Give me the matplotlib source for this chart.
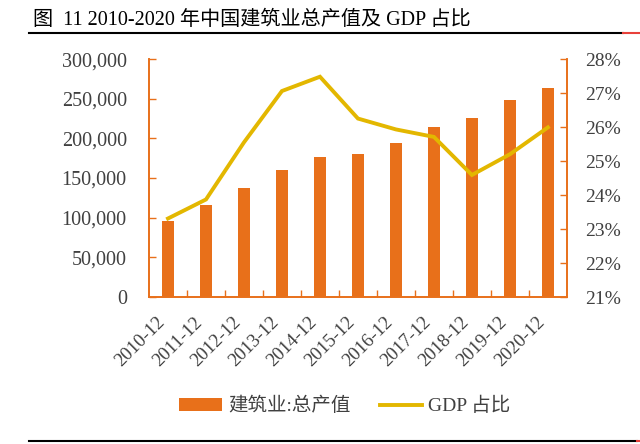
import numpy as np
import matplotlib.pyplot as plt
import matplotlib.transforms as mtransforms
from matplotlib.lines import Line2D
from matplotlib.ticker import FuncFormatter, MultipleLocator, FixedLocator

# --- data ---
months = ["2010-12", "2011-12", "2012-12", "2013-12", "2014-12", "2015-12",
          "2016-12", "2017-12", "2018-12", "2019-12", "2020-12"]
output_value = [96031, 116463, 137218, 160366, 176713, 180757,
                193567, 213944, 225817, 248446, 263947]  # 建筑业:总产值 (亿元)
gdp_share = [23.31, 23.87, 25.55, 27.06, 27.48, 26.25,
             25.93, 25.71, 24.59, 25.20, 25.99]  # GDP 占比 (%)

bar_color = "#E8701A"
line_color = "#E3B700"
text_color = "#404040"
fonts = ["Liberation Serif", "Noto Sans CJK SC"]
plt.rcParams["font.family"] = fonts

fig = plt.figure(figsize=(6.4, 4.44), dpi=100)
ax = fig.add_axes([0.2328, 0.331, 0.653, 0.536])
ax2 = ax.twinx()

x = np.arange(len(months))
bars = ax.bar(x, output_value, width=0.31, color=bar_color, zorder=2,
              label="建筑业:总产值")
line, = ax2.plot(x, gdp_share, color=line_color, linewidth=2.8,
                 solid_joinstyle="miter", label="GDP 占比")

ax.set_xlim(-0.5, len(months) - 0.5)
ax.set_ylim(0, 300000)
ax.yaxis.set_major_locator(MultipleLocator(50000))
ax.yaxis.set_major_formatter(FuncFormatter(lambda v, p: f"{int(v):,}"))
ax2.set_ylim(21, 28)
ax2.yaxis.set_major_locator(MultipleLocator(1))
ax2.yaxis.set_major_formatter(FuncFormatter(lambda v, p: f"{int(round(v))}%"))

ax.set_xticks(x)
ax.set_xticklabels(months, rotation=45, ha="right", va="top")
shift = mtransforms.ScaledTranslation(5 / 100, 0, fig.dpi_scale_trans)
for lbl in ax.get_xticklabels():
    lbl.set_transform(lbl.get_transform() + shift)
ax.xaxis.set_minor_locator(FixedLocator(np.arange(0.5, len(months) - 1, 1)))
ax.tick_params(axis="x", which="major", length=0, pad=12,
               labelsize=13.5, labelcolor=text_color)
ax.tick_params(axis="x", which="minor", direction="in", length=5,
               color=bar_color, width=1)
ax.tick_params(axis="y", direction="in", length=5, color=bar_color, width=1,
               pad=16, labelsize=14.5, labelcolor=text_color)
ax2.tick_params(axis="y", direction="in", length=5, color=bar_color, width=1,
                pad=13, labelsize=14, labelcolor=text_color)

for a in (ax, ax2):
    a.spines["top"].set_visible(False)
    for s in ("left", "right", "bottom"):
        a.spines[s].set_color(bar_color)
        a.spines[s].set_linewidth(1.2)

# legend
fig.legend(handles=[bars, line], loc="center", bbox_to_anchor=(0.539, 0.085),
           ncol=2, frameon=False, fontsize=14, labelcolor=text_color,
           handlelength=2.2, handleheight=0.6, columnspacing=1.5,
           handletextpad=0.3)

# title and rules
fig.text(0.052, 0.932, "图  11 2010-2020 年中国建筑业总产值及 GDP 占比",
         fontsize=14.5, color="black", ha="left", va="bottom")
fig.add_artist(Line2D([0.045, 0.973], [0.926, 0.926], color="black", linewidth=1.5))
fig.add_artist(Line2D([0.973, 1.0], [0.926, 0.926], color="#E8403A", linewidth=1.5))
fig.add_artist(Line2D([0.045, 0.995], [0.007, 0.007], color="black", linewidth=1.5))
fig.add_artist(Line2D([0.995, 1.0], [0.007, 0.007], color="#E8403A", linewidth=1.5))

fig.savefig("out.png", dpi=100)
